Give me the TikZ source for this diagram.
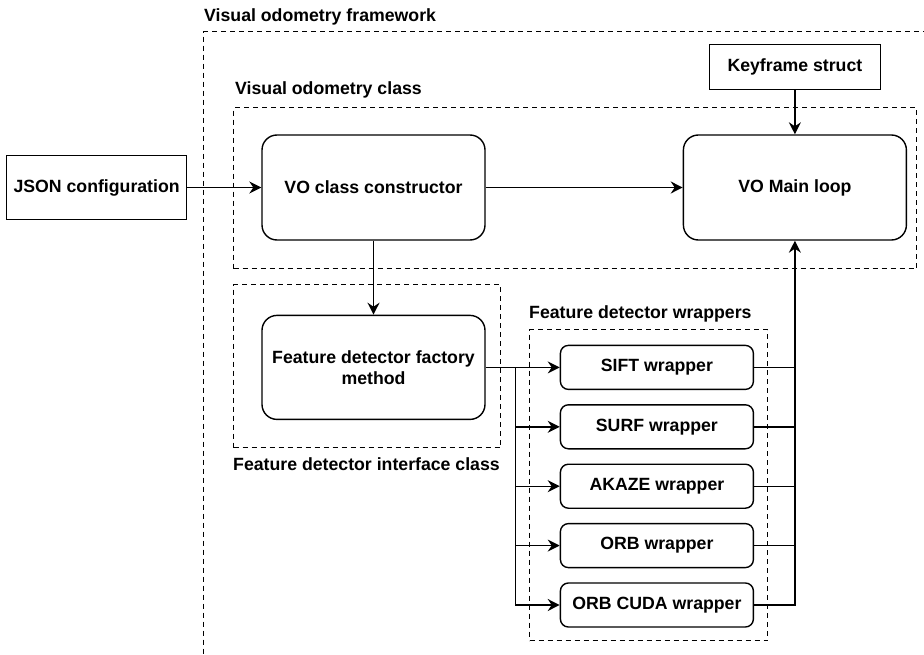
\documentclass[tikz,border=0pt]{standalone}
\usepackage{fontspec}
\setmainfont{Liberation Sans}
\usepackage{tikz}
\usetikzlibrary{
  arrows.meta,
  positioning,
  calc
}
\newcommand{\boxfont}{\bfseries\fontsize{17.7}{21}\selectfont}
\tikzset{
  plainbox/.style = {
    rectangle, draw=black, line width=1.4pt,
    fill=white, minimum width=#1, minimum height=64pt,
    align=center, font=\boxfont, inner sep=2pt
  },
  plainbox/.default = 180pt,
  classbox/.style = {
    rectangle, rounded corners=15pt,
    draw=black, line width=1.4pt,
    fill=white, minimum width=223pt, minimum height=#1,
    align=center, font=\boxfont
  },
  classbox/.default = 105pt,
  wrapbox/.style = {
    rectangle, rounded corners=8pt,
    draw=black, line width=1.4pt,
    fill=white, minimum width=193pt, minimum height=44pt,
    align=center, font=\boxfont
  },
  frame/.style = {
    rectangle, draw=black, line width=1.3pt,
    dash pattern=on 5pt off 4pt, anchor=north west,
    inner sep=0pt
  },
  framelbl/.style = {font=\boxfont, inner sep=0pt, anchor=west},
  arr/.style  = {-{Stealth[length=12pt, width=12pt, inset=4pt]},
                 draw=black, line width=1.4pt},
  line/.style = {draw=black, line width=1.4pt},
}

\begin{document}
\begin{tikzpicture}[x=1pt, y=-1pt, node distance=74pt and 74pt]

  \useasboundingbox (0,0) rectangle (924,655);

  % dashed frames
  \node[frame, minimum width=760pt, minimum height=680pt] (fw) at (203,31) {};
  \node[frame, minimum width=683pt, minimum height=161pt] (voc) at (233,107) {};
  \node[frame, minimum width=267pt, minimum height=163pt] (ifc) at (233,284) {};
  \node[frame, minimum width=238pt, minimum height=311pt] (wrp) at (529,329) {};

  \node[framelbl, yshift=14pt] (fwlbl) at (fw.north west)
    {\hspace{1pt}Visual odometry framework};
  \node[framelbl, yshift=17pt] (voclbl) at (voc.north west)
    {\hspace{2pt}Visual odometry class};
  \node[framelbl, yshift=15pt] (wrplbl) at (wrp.north west)
    {Feature detector wrappers};
  \node[framelbl, yshift=-16pt] (ifclbl) at (ifc.south west)
    {Feature detector interface class};

  % main boxes
  \node[classbox] (ctor) at (373.5,187.5) {VO class constructor};
  \node[plainbox=180pt, left=74pt of ctor] (json) {JSON configuration};
  \node[classbox, right=197pt of ctor] (main) {VO Main loop};
  \node[plainbox=171pt, minimum height=45pt, above=44pt of main] (key)
    {Keyframe struct};
  \node[classbox=104pt, below=74pt of ctor] (fact)
    {Feature detector factory\\method};

  % wrappers
  \node[wrapbox, right=74pt of fact] (sift) {SIFT wrapper};
  \node[wrapbox, below=14pt of sift] (surf) {SURF wrapper};
  \node[wrapbox, below=14pt of surf] (akaze) {AKAZE wrapper};
  \node[wrapbox, below=14pt of akaze] (orb) {ORB wrapper};
  \node[wrapbox, below=14pt of orb] (cuda) {ORB CUDA wrapper};

  \coordinate (split) at ($(fact.east)+(30,0)$);

  %% Arrows
  \draw[arr] (json) -- (ctor);
  \draw[arr] (ctor) -- (main);
  \draw[arr] (key) -- (main);
  \draw[arr] (ctor) -- (fact);
  \draw[arr] (fact) -- (sift);
  \draw[arr] (split) |- (surf);
  \draw[arr] (split) |- (akaze);
  \draw[arr] (split) |- (orb);
  \draw[arr] (split) |- (cuda);
  % wrappers back up to the main loop
  \draw[arr] (cuda.east) -| (main.south);
  \draw[line] (sift.east)  -- (sift.east -| main.south);
  \draw[line] (surf.east)  -- (surf.east -| main.south);
  \draw[line] (akaze.east) -- (akaze.east -| main.south);
  \draw[line] (orb.east)   -- (orb.east -| main.south);

\end{tikzpicture}
\end{document}
